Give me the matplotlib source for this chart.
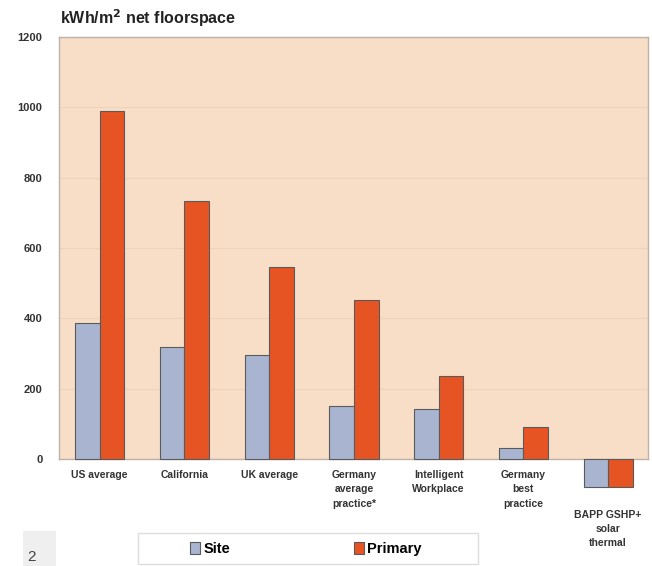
import matplotlib
matplotlib.use("Agg")
import matplotlib.pyplot as plt
from matplotlib.patches import Rectangle, Patch
import numpy as np

# datos
categorias = ["US average", "California", "UK average", "Germany\naverage\npractice*",
              "Intelligent\nWorkplace", "Germany\nbest\npractice", "BAPP GSHP+\nsolar\nthermal"]
site = [388, 318, 297, 150, 143, 30, -80]
primary = [990, 733, 545, 452, 237, 90, -80]
yticks = [0, 200, 400, 600, 800, 1000, 1200]

plt.rcParams["font.family"] = ["Liberation Sans", "DejaVu Sans"]

fig = plt.figure(figsize=(6.52, 5.66), dpi=100)
ax = fig.add_axes([59 / 652, 107 / 566, 589 / 652, 422 / 566])
ax.set_facecolor("#F8DEC6")

x = np.arange(len(categorias))
w = 0.29
b1 = ax.bar(x - w / 2, site, w, color="#A9B5D0", edgecolor="#5A5A5A", linewidth=0.8, zorder=3)
b2 = ax.bar(x + w / 2, primary, w, color="#E65423", edgecolor="#5A5A5A", linewidth=0.8, zorder=3)
for b in list(b1) + list(b2):
    b.set_clip_on(False)

ax.set_xlim(-0.48, len(categorias) - 0.53)
ax.set_ylim(0, 1200)
ax.set_yticks(yticks)
ax.set_yticklabels([str(v) for v in yticks], fontsize=8, fontweight="bold", color="#333333")
ax.tick_params(axis="y", length=0, pad=12)
ax.set_xticks([])
ax.grid(axis="y", color="#EDD3BA", linewidth=0.8, zorder=0)
for s in ax.spines.values():
    s.set_color("#BDB2AA")
    s.set_linewidth(1.0)

# etiquetas de categorias (la ultima va debajo de las barras negativas)
for i, cat in enumerate(categorias):
    ypos = -0.026 if site[i] >= 0 else -0.12
    ax.text(i, ypos, cat, transform=ax.get_xaxis_transform(), ha="center", va="top",
            fontsize=7.5, fontweight="bold", color="#333333", linespacing=1.55)

fig.text(60 / 652, 1 - 18 / 566, "kWh/m$^\\mathbf{2}$ net floorspace", fontsize=11.5,
         fontweight="bold", va="center", ha="left", color="#222222")

# leyenda
fig.patches.append(Rectangle((138 / 652, 2 / 566), 340 / 652, 31 / 566, transform=fig.transFigure,
                             facecolor="white", edgecolor="#DDDDDD", linewidth=1.0))
handles = [Patch(facecolor="#A9B5D0", edgecolor="#5A5A5A", linewidth=0.8, label="Site"),
           Patch(facecolor="#E65423", edgecolor="#5A5A5A", linewidth=0.8, label="Primary")]
fig.legend(handles=handles, loc="center", bbox_to_anchor=(306 / 652, 17 / 566), ncol=2,
           frameon=False, prop={"weight": "bold", "size": 10.5}, handlelength=0.7,
           handleheight=0.8, handletextpad=0.2, columnspacing=8.5)

fig.patches.append(Rectangle((23 / 652, 0), 33 / 652, 35 / 566, transform=fig.transFigure,
                             facecolor="#EFEFEF", edgecolor="none"))
fig.text(32 / 652, 1 - 557 / 566, "2", fontsize=11, color="#444444", ha="center", va="center")

fig.savefig("out.png", dpi=100)
